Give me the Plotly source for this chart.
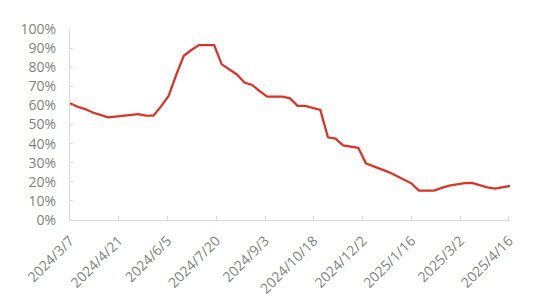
import plotly.graph_objects as go
import pandas as pd

start_date = "2024-03-07"
n_weeks = 59
values = [61.1, 59.3, 58.1, 56.3, 55.0, 53.7, 54.1, 54.6, 55.2, 55.4,
          54.6, 54.6, 59.5, 65.0, 76.0, 86.0, 89.0, 91.6, 91.6, 91.6,
          81.5, 78.7, 76.2, 72.0, 70.7, 67.5, 64.6, 64.6, 64.6, 63.7,
          59.8, 59.7, 58.5, 57.6, 43.3, 42.6, 39.1, 38.5, 37.8, 29.7,
          28.2, 26.7, 25.1, 23.2, 21.0, 19.2, 15.4, 15.4, 15.4, 16.8,
          18.0, 18.7, 19.3, 19.4, 18.2, 17.1, 16.4, 17.0, 17.8]
dates = pd.date_range(start_date, periods=n_weeks, freq="7D")

tick_dates = ["2024-03-07", "2024-04-21", "2024-06-05", "2024-07-20", "2024-09-03",
              "2024-10-18", "2024-12-02", "2025-01-16", "2025-03-02", "2025-04-16"]
tick_labels = ["2024/3/7", "2024/4/21", "2024/6/5", "2024/7/20", "2024/9/3",
               "2024/10/18", "2024/12/2", "2025/1/16", "2025/3/2", "2025/4/16"]
y_ticks = [0, 10, 20, 30, 40, 50, 60, 70, 80, 90, 100]
y_labels = [f"{v}%" for v in y_ticks]

fig = go.Figure()
fig.add_trace(go.Scatter(x=dates, y=values, mode="lines",
                         line=dict(color="#d9342b", width=2.3),
                         hoverinfo="skip", showlegend=False))

fig.update_layout(
    width=553, height=300,
    margin=dict(l=70, r=43, t=29, b=80),
    paper_bgcolor="white", plot_bgcolor="white",
    font=dict(family="Open Sans, Noto Sans, sans-serif", size=14, color="#7f7f7f"),
    xaxis=dict(type="date", range=["2024-03-07", "2025-04-17"],
               tickvals=tick_dates, ticktext=tick_labels, tickangle=-45,
               showgrid=False, zeroline=False, showline=True,
               linecolor="#d9d9d9", linewidth=1.3,
               ticks="inside", ticklen=4, tickcolor="#d9d9d9",
               ticklabelstandoff=6, automargin=False,
               tickfont=dict(size=14, color="#7f7f7f")),
    yaxis=dict(range=[0, 100], tickvals=y_ticks, ticktext=y_labels,
               showgrid=False, zeroline=False, showline=True,
               linecolor="#d9d9d9", linewidth=1.3,
               ticks="inside", ticklen=3, tickcolor="#d9d9d9",
               ticklabelstandoff=10, automargin=False,
               tickfont=dict(size=14, color="#7f7f7f")),
)

fig.write_html("out.html")
